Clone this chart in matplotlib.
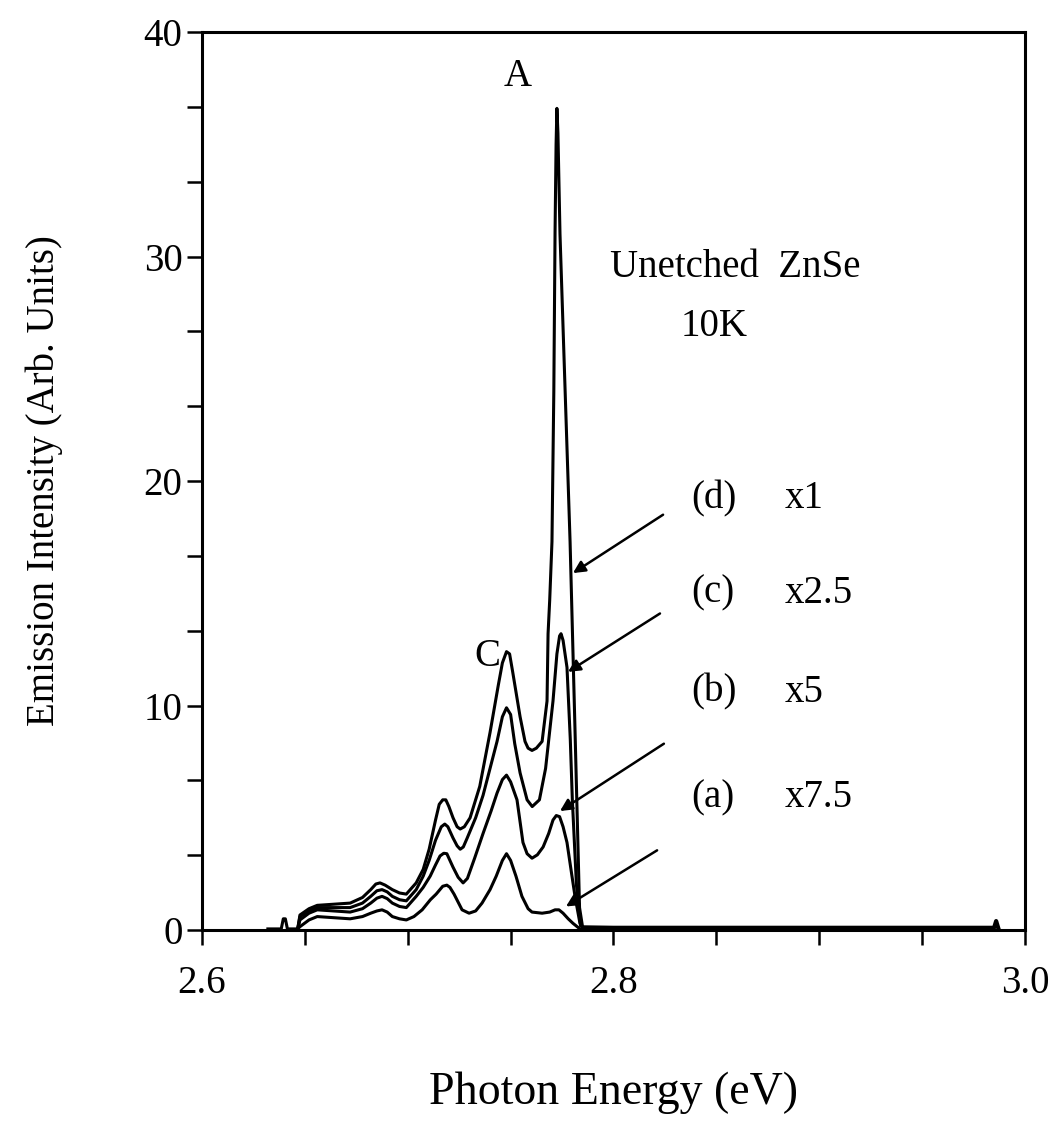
import matplotlib
matplotlib.use("Agg")
import matplotlib.pyplot as plt
from matplotlib.ticker import MultipleLocator, FixedLocator, AutoMinorLocator

plt.rcParams['font.family'] = ['Liberation Serif', 'DejaVu Serif']

# ---- data ----
base_E = [2.632, 2.6385, 2.6395, 2.6405, 2.6415, 2.6465]
base_I = [0.05, 0.05, 0.5, 0.5, 0.05, 0.05]

tail_E = [2.785, 2.80, 2.90, 2.985, 2.986, 2.987]
tail_I = [0.12, 0.1, 0.1, 0.1, 0.4, 0.1]

E_a = [2.6465, 2.6476, 2.652, 2.656, 2.664, 2.672, 2.678, 2.682, 2.685, 2.6875, 2.690, 2.6925, 2.696,
       2.6993, 2.703, 2.707, 2.711, 2.7138, 2.717, 2.719, 2.7205, 2.7225, 2.7264, 2.7298, 2.733,
       2.7361, 2.740, 2.743, 2.746, 2.748, 2.750, 2.7526, 2.7555, 2.7585, 2.7604, 2.7653, 2.769,
       2.7716, 2.7735, 2.7755, 2.778, 2.7803, 2.7837]
I_a = [0.05, 0.15, 0.45, 0.6, 0.55, 0.5, 0.6, 0.75, 0.85, 0.9, 0.8, 0.6, 0.5,
       0.45, 0.6, 0.9, 1.35, 1.6, 1.95, 2.0, 1.9, 1.6, 0.9, 0.75, 0.85,
       1.2, 1.8, 2.4, 3.1, 3.4, 3.1, 2.4, 1.5, 0.95, 0.8, 0.75, 0.8,
       0.9, 0.9, 0.75, 0.5, 0.3, 0.05]

E_b = [2.6465, 2.6476, 2.652, 2.656, 2.664, 2.672, 2.678, 2.682, 2.685, 2.6875, 2.690, 2.6925, 2.696,
       2.6993, 2.7041, 2.7075, 2.7109, 2.7135, 2.7157, 2.7175, 2.719, 2.7205, 2.7220, 2.7245, 2.7269,
       2.729, 2.7325, 2.7366, 2.7405, 2.7434, 2.746, 2.748, 2.750, 2.7531, 2.7560, 2.758, 2.7604,
       2.763, 2.7658, 2.7685, 2.7706, 2.7722, 2.7738, 2.7755, 2.7774, 2.7795, 2.7813, 2.7837, 2.7850]
I_b = [0.05, 0.45, 0.75, 0.9, 0.85, 0.8, 0.95, 1.2, 1.42, 1.5, 1.4, 1.2, 1.05,
       1.0, 1.5, 1.9, 2.4, 2.9, 3.3, 3.42, 3.4, 3.1, 2.8, 2.35, 2.1,
       2.3, 3.2, 4.3, 5.3, 6.1, 6.7, 6.9, 6.6, 5.8, 3.9, 3.4, 3.2,
       3.35, 3.7, 4.3, 4.9, 5.1, 5.05, 4.6, 3.9, 2.6, 1.5, 0.3, 0.1]

E_c = [2.6465, 2.6476, 2.652, 2.656, 2.664, 2.672, 2.678, 2.682, 2.685, 2.6875, 2.690, 2.6925, 2.696,
       2.6993, 2.7041, 2.7075, 2.7104, 2.7135, 2.7163, 2.718, 2.7195, 2.7220, 2.7240, 2.7255,
       2.7270, 2.7289, 2.733, 2.7366, 2.740, 2.7434, 2.746, 2.748, 2.750, 2.752, 2.7546, 2.758,
       2.7605, 2.764, 2.767, 2.7706, 2.7725, 2.7738, 2.7745, 2.7755, 2.7774, 2.779, 2.780, 2.782, 2.7840]
I_c = [0.05, 0.6, 0.85, 1.0, 1.0, 1.0, 1.2, 1.5, 1.75, 1.8, 1.7, 1.5, 1.35,
       1.3, 1.8, 2.4, 3.1, 4.0, 4.6, 4.72, 4.6, 4.1, 3.75, 3.6,
       3.7, 4.1, 5.0, 6.0, 7.2, 8.4, 9.5, 9.9, 9.6, 8.3, 7.0, 5.8,
       5.5, 5.8, 7.2, 10.2, 12.3, 13.1, 13.2, 12.9, 11.7, 8.5, 5.8, 2.0, 0.2]

E_d = [2.6465, 2.6476, 2.652, 2.656, 2.664, 2.672, 2.678, 2.682, 2.6845, 2.6865, 2.689, 2.6925, 2.696,
       2.6993, 2.7041, 2.7075, 2.7104, 2.7135, 2.7153, 2.717, 2.7185, 2.7200, 2.7220, 2.7240, 2.7255,
       2.7275, 2.7303, 2.735, 2.740, 2.744, 2.746, 2.748, 2.7495, 2.751, 2.7546, 2.757, 2.7585, 2.7604,
       2.7625, 2.7653, 2.7677, 2.7682, 2.769, 2.7701, 2.7710, 2.7716, 2.7721, 2.7725, 2.7730, 2.7740,
       2.7765, 2.7789, 2.7813, 2.7835, 2.785]
I_d = [0.05, 0.67, 0.95, 1.1, 1.15, 1.2, 1.45, 1.8, 2.05, 2.1, 2.0, 1.8, 1.65,
       1.6, 2.1, 2.7, 3.6, 4.9, 5.6, 5.8, 5.8, 5.5, 5.0, 4.6, 4.5,
       4.6, 5.0, 6.4, 8.8, 10.9, 11.9, 12.4, 12.3, 11.5, 9.5, 8.4, 8.1, 8.0,
       8.1, 8.4, 10.2, 13.2, 14.7, 17.3, 24.0, 31.1, 35.0, 36.6, 35.5, 31.0,
       24.0, 17.3, 8.9, 1.0, 0.12]

labels = ["(d)", "(c)", "(b)", "(a)"]
factors = ["x1", "x2.5", "x5", "x7.5"]
# arrow tails (label side) and heads (on the curves)
arrow_tail_E = [2.8241, 2.8226, 2.8245, 2.8212]
arrow_tail_I = [18.5, 14.1, 8.3, 3.55]
arrow_head_E = [2.7803, 2.7779, 2.7740, 2.7769]
arrow_head_I = [15.9, 11.5, 5.3, 1.05]
label_I = [19.2, 15.0, 10.6, 5.9]

fig = plt.figure(figsize=(10.55, 11.28), dpi=100)
ax = fig.add_axes([0.1915, 0.1755, 0.780, 0.7961])

lw = 2.2
ax.plot(base_E, base_I, color='black', lw=lw)
ax.plot(tail_E, tail_I, color='black', lw=3.0)
for E, I in [(E_a, I_a), (E_b, I_b), (E_c, I_c), (E_d, I_d)]:
    ax.plot(E, I, color='black', lw=lw, solid_joinstyle='round')

ax.set_xlim(2.6, 3.0)
ax.set_ylim(0, 40)
ax.xaxis.set_major_locator(FixedLocator([2.6, 2.8, 3.0]))
ax.xaxis.set_minor_locator(MultipleLocator(0.05))
ax.yaxis.set_major_locator(MultipleLocator(10))
ax.yaxis.set_minor_locator(AutoMinorLocator(3))
ax.set_xticklabels(["2.6", "2.8", "3.0"])
ax.tick_params(which='both', direction='out', length=11, width=1.8, labelsize=28, color='black')
ax.tick_params(axis='x', pad=14)
ax.tick_params(axis='y', pad=3)
for s in ax.spines.values():
    s.set_linewidth(2.2)

ax.set_xlabel("Photon Energy (eV)", fontsize=33, labelpad=50)
ax.set_ylabel("Emission Intensity (Arb. Units)", fontsize=28, labelpad=58)

ax.text(2.7536, 38.0, "A", fontsize=28, ha='center', va='center')
ax.text(2.7385, 12.2, "C", fontsize=28, ha='center', va='center')
ax.text(2.859, 29.5, "Unetched  ZnSe", fontsize=28, ha='center', va='center')
ax.text(2.849, 26.9, "10K", fontsize=28, ha='center', va='center')

for lab, fac, ly, te, ti, he, hi in zip(labels, factors, label_I, arrow_tail_E, arrow_tail_I,
                                         arrow_head_E, arrow_head_I):
    ax.text(2.8376, ly, lab, fontsize=28, ha='left', va='center')
    ax.text(2.8834, ly, fac, fontsize=28, ha='left', va='center')
    ax.annotate("", xy=(he, hi), xytext=(te, ti),
                arrowprops=dict(arrowstyle='-|>', color='black', lw=1.8, mutation_scale=18,
                                shrinkA=0, shrinkB=0))

fig.savefig("out.png", dpi=100)
